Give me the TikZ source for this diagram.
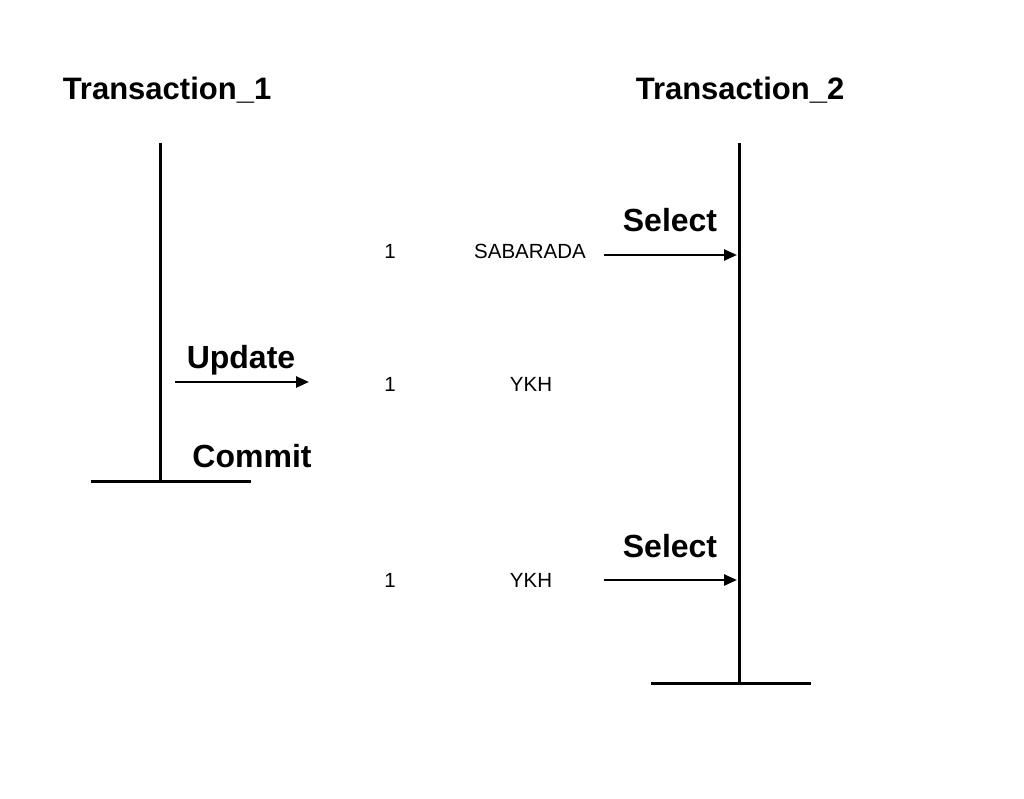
\documentclass[tikz,border=0pt]{standalone}
\usepackage{fontspec}
\setmainfont{Liberation Sans}
\usetikzlibrary{arrows.meta}
\begin{document}
\begin{tikzpicture}[x=1pt,y=-1pt,
  title/.style={font=\bfseries\fontsize{31}{35}\selectfont, inner sep=0pt, anchor=center},
  oplabel/.style={font=\bfseries\fontsize{32}{36}\selectfont, inner sep=0pt, anchor=center},
  cell/.style={font=\fontsize{20.5}{24}\selectfont, inner sep=0pt, anchor=center},
  life/.style={line width=3pt},
  msg/.style={line width=2.5pt, -{Triangle[length=13pt,width=11pt]}}]
\useasboundingbox (0,0) rectangle (1024,798);
% titles
\node[title] (t1) at (167,90) {Transaction\_1};
\node[title] (t2) at (740,90) {Transaction\_2};
% lifelines
\coordinate (l1top) at (160,143);
\coordinate (l1bot) at (160,481);
\coordinate (l1a) at (91,481);
\coordinate (l1b) at (251,481);
\coordinate (l2top) at (739,143);
\coordinate (l2bot) at (739,683);
\coordinate (l2a) at (651,683);
\coordinate (l2b) at (811,683);
\draw[life] (l1top) -- (l1bot);
\draw[life] (l1a) -- (l1b);
\draw[life] (l2top) -- (l2bot);
\draw[life] (l2a) -- (l2b);
% first select
\node[oplabel] (sel1) at (670,220) {Select};
\node[cell] (r1id) at (390,251) {1};
\node[cell] (r1name) at (530,251) {SABARADA};
\coordinate (s1a) at (604,255);
\coordinate (s1b) at (737,255);
\draw[msg] (s1a) -- (s1b);
% update
\node[oplabel] (upd) at (241,360) {Update};
\coordinate (u1a) at (175,382);
\coordinate (u1b) at (309,382);
\draw[msg] (u1a) -- (u1b);
\node[cell] (r2id) at (390,384) {1};
\node[cell] (r2name) at (531,384) {YKH};
% commit
\node[oplabel] (com) at (252,456) {Commit};
% second select
\node[oplabel] (sel2) at (670,546) {Select};
\node[cell] (r3id) at (390,580) {1};
\node[cell] (r3name) at (531,580) {YKH};
\coordinate (s2a) at (604,580);
\coordinate (s2b) at (737,580);
\draw[msg] (s2a) -- (s2b);
\end{tikzpicture}
\end{document}
